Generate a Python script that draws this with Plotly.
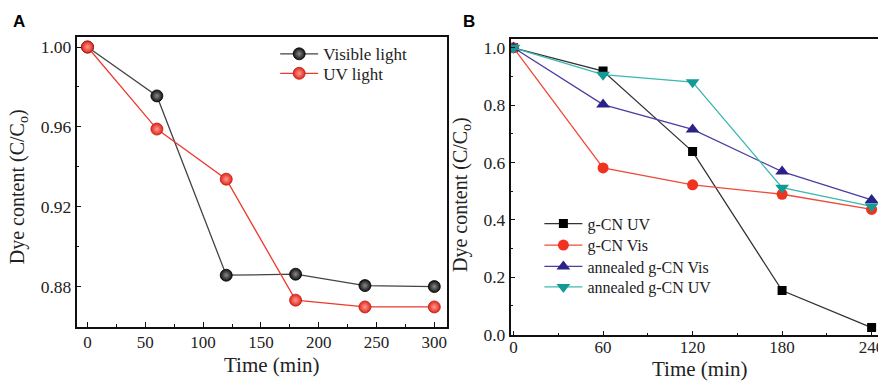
import plotly.graph_objects as go

# ---- Panel A data ----
time_a = [0, 60, 120, 180, 240, 300]
visible_light = [1.000, 0.9755, 0.8857, 0.8862, 0.8805, 0.8800]
uv_light = [1.000, 0.9589, 0.9338, 0.8732, 0.8698, 0.8698]

# ---- Panel B data ----
time_b = [0, 60, 120, 180, 240]
gcn_uv = [1.0, 0.919, 0.638, 0.153, 0.024]
gcn_vis = [1.0, 0.581, 0.522, 0.489, 0.436]
ann_gcn_vis = [1.0, 0.802, 0.715, 0.568, 0.469]
ann_gcn_uv = [1.0, 0.906, 0.880, 0.512, 0.447]

SERIF = "Liberation Serif"
W, H = 886, 384
def px_x(p): return p / W
def px_y(p): return 1 - p / H

fig = go.Figure()

# Panel A
fig.add_trace(go.Scatter(x=time_a, y=visible_light, name="Visible light", mode="lines+markers",
                         line=dict(color="#444444", width=1.3),
                         marker=dict(symbol="circle", size=12, color="#111111",
                                     gradient=dict(type="radial", color="#8a8a8a"),
                                     line=dict(color="#000000", width=0.8)),
                         xaxis="x", yaxis="y", legend="legend"))
fig.add_trace(go.Scatter(x=time_a, y=uv_light, name="UV light", mode="lines+markers",
                         line=dict(color="#ee3a2e", width=1.3),
                         marker=dict(symbol="circle", size=12, color="#e0271c",
                                     gradient=dict(type="radial", color="#ff9a90"),
                                     line=dict(color="#c01810", width=0.8)),
                         xaxis="x", yaxis="y", legend="legend3"))

# Panel B
b_series = [
    ("g-CN UV", gcn_uv, "#333333", "#000000", "square", 9, "legend2"),
    ("g-CN Vis", gcn_vis, "#f04a3a", "#f0321e", "circle", 11, "legend4"),
    ("annealed g-CN Vis", ann_gcn_vis, "#4a3ea0", "#2a2288", "triangle-up", 12, "legend5"),
    ("annealed g-CN UV", ann_gcn_uv, "#3cb8b0", "#149a94", "triangle-down", 12, "legend6"),
]
for name, vals, lc, mc, sym, sz, lg in b_series:
    fig.add_trace(go.Scatter(x=time_b, y=vals, name=name, mode="lines+markers",
                             line=dict(color=lc, width=1.3),
                             marker=dict(symbol=sym, size=sz, color=mc, line=dict(width=0)),
                             xaxis="x2", yaxis="y2", legend=lg))

axis_common = dict(showline=True, linecolor="#111111", linewidth=1.5, mirror=True,
                   ticks="inside", ticklen=5, tickwidth=1.2, tickcolor="#111111",
                   showgrid=False, zeroline=False)
xfont = dict(family=SERIF, size=17, color="#222222")
yfont = dict(family=SERIF, size=17.5, color="#222222")

def legend_at(xpx, row_center_px, size, offset):
    return dict(x=px_x(xpx), y=px_y(row_center_px - offset), xanchor="left", yanchor="top",
                bgcolor="rgba(0,0,0,0)", borderwidth=0, itemwidth=38,
                font=dict(family=SERIF, size=size, color="#222222"), tracegroupgap=0)

fig.update_layout(
    width=W, height=H, margin=dict(l=0, r=0, t=0, b=0),
    paper_bgcolor="white", plot_bgcolor="white", showlegend=True,
    xaxis=dict(domain=[px_x(68), px_x(441)], range=[-9.5, 311], anchor="y",
               tick0=0, dtick=50, tickfont=xfont, ticklabelstandoff=-1,
               minor=dict(ticks="inside", dtick=25, ticklen=3, tickcolor="#111111", showgrid=False),
               **axis_common),
    yaxis=dict(domain=[px_y(326), px_y(29)], range=[0.86, 1.0049], anchor="x",
               tick0=0.88, dtick=0.04, tickformat=".2f", tickfont=yfont,
               minor=dict(ticks="inside", dtick=0.02, ticklen=3, tickcolor="#111111", showgrid=False),
               **axis_common),
    xaxis2=dict(domain=[px_x(505), px_x(876)], range=[-2, 245], anchor="y2",
                tick0=0, dtick=60, tickfont=xfont, ticklabelstandoff=-4,
                minor=dict(ticks="inside", dtick=30, ticklen=3, tickcolor="#111111", showgrid=False),
                **axis_common),
    yaxis2=dict(domain=[px_y(335), px_y(31)], range=[-0.003, 1.03], anchor="x2",
                tick0=0, dtick=0.2, tickformat=".1f", tickfont=yfont,
                minor=dict(ticks="inside", dtick=0.1, ticklen=3, tickcolor="#111111", showgrid=False),
                **axis_common),
    legend=legend_at(268, 52, 17, 24),
    legend3=legend_at(268, 72, 17, 24),
    legend2=legend_at(534, 225, 16, 22),
    legend4=legend_at(534, 247, 16, 22),
    legend5=legend_at(534, 269, 16, 22),
    legend6=legend_at(534, 290, 16, 22),
)

annotations = [
    dict(text="<b>A</b>", x=px_x(2), y=px_y(1), xanchor="left", yanchor="top",
         font=dict(family="Liberation Sans", size=17, color="#000000")),
    dict(text="<b>B</b>", x=px_x(455), y=px_y(1), xanchor="left", yanchor="top",
         font=dict(family="Liberation Sans", size=17, color="#000000")),
    dict(text="Time (min)", x=px_x(264), y=px_y(366), xanchor="center", yanchor="middle",
         font=dict(family=SERIF, size=21, color="#222222")),
    dict(text="Time (min)", x=px_x(695), y=px_y(370), xanchor="center", yanchor="middle",
         font=dict(family=SERIF, size=21, color="#222222")),
    dict(text="Dye content (C/C<sub>o</sub>)", x=px_x(9), y=px_y(182), xanchor="center", yanchor="middle",
         textangle=-90, font=dict(family=SERIF, size=20, color="#222222")),
    dict(text="Dye content (C/C<sub>o</sub>)", x=px_x(455), y=px_y(190), xanchor="center", yanchor="middle",
         textangle=-90, font=dict(family=SERIF, size=20, color="#222222")),
]
for a in annotations:
    a.update(xref="paper", yref="paper", showarrow=False)
fig.update_layout(annotations=annotations)

fig.write_html("out.html")
